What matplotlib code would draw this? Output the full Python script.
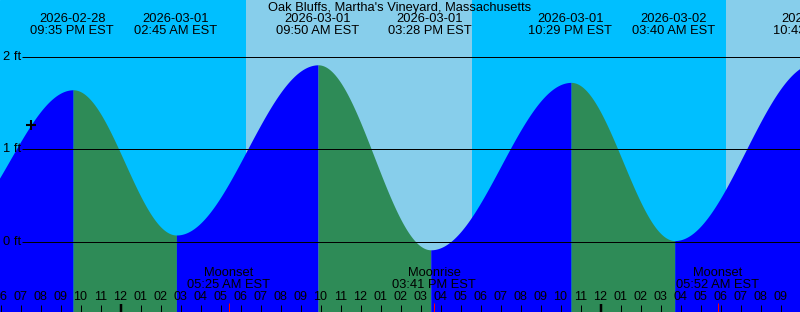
import numpy as np
import matplotlib
matplotlib.use("Agg")
import matplotlib.pyplot as plt
import matplotlib.transforms as mtransforms

plt.rcParams['font.family'] = ['Liberation Sans', 'DejaVu Sans']

title = "Oak Bluffs, Martha's Vineyard, Massachusetts"

# tide events, hours relative to 2026-03-01 00:00 EST
tide_hours = [-8.7, -2.417, 2.75, 9.833, 15.467, 22.483, 27.667, 34.717]
tide_heights = [0.13, 1.64, 0.07, 1.91, -0.09, 1.72, 0.01, 1.93]
tide_dates = ["", "2026-02-28", "2026-03-01", "2026-03-01", "2026-03-01",
              "2026-03-01", "2026-03-02", "2026-03-02"]
tide_times = ["", "09:35 PM EST", "02:45 AM EST", "09:50 AM EST", "03:28 PM EST",
              "10:29 PM EST", "03:40 AM EST", "10:43 AM EST"]

# daylight spans (sunrise, sunset) in hours
day_spans = [(6.275, 17.575), (30.275, 41.5)]

moon_hours = [5.417, 15.683, 29.867]
moon_names = ["Moonset", "Moonrise", "Moonset"]
moon_times = ["05:25 AM EST", "03:41 PM EST", "05:52 AM EST"]

now_hour = -4.5
now_height = 1.26

y_levels = [0, 1, 2]

W, H = 800, 312
x0, x1 = -6.025, 33.975
y0, y1 = -0.757, 2.616

fig = plt.figure(figsize=(W / 100, H / 100), dpi=100)
ax = fig.add_axes([0, 0, 1, 1])
ax.set_xlim(x0, x1)
ax.set_ylim(y0, y1)
ax.axis('off')

night = '#00BFFF'
day = '#87CEEB'
ax.axvspan(x0, x1, color=night, zorder=0)
for a, b in day_spans:
    ax.axvspan(a, b, color=day, zorder=0.5, lw=0)

# tide curve, cosine between highs and lows (drawn ~1.5px later, like the original)
shift = 0.07
for i in range(len(tide_hours) - 1):
    ta, tb = tide_hours[i], tide_hours[i + 1]
    va, vb = tide_heights[i], tide_heights[i + 1]
    t = np.linspace(ta, tb, 200)
    v = va + (vb - va) * (1 - np.cos(np.pi * (t - ta) / (tb - ta))) / 2
    col = '#0000FF' if vb > va else '#2E8B57'
    ax.fill_between(t + shift, y0 - 1, v, color=col, lw=0, zorder=1)

px = 1 / 100 * 72  # one pixel in points
xstart = x0 + 22 / W * (x1 - x0)
ax.hlines(y_levels, xstart, x1, color='black', lw=px, zorder=2)

yfig = mtransforms.blended_transform_factory(ax.transData, ax.transAxes)
axfig = ax.transAxes

def fy(p):
    return 1 - p / H

fs = 9.3
for lv in y_levels:
    ax.text(3 / W, (lv - y0) / (y1 - y0), f"{lv} ft", transform=axfig,
            ha='left', va='center', fontsize=fs, zorder=3)

ax.text(0.5, fy(7.5), title, transform=axfig, ha='center', va='center', fontsize=fs)
for h, d, tm in zip(tide_hours, tide_dates, tide_times):
    if d:
        ax.text(h, fy(19.5), d, transform=yfig, ha='center', va='center', fontsize=fs)
        ax.text(h, fy(31.5), tm, transform=yfig, ha='center', va='center', fontsize=fs)

for h, n, tm in zip(moon_hours, moon_names, moon_times):
    ax.text(h, fy(273.5), n, transform=yfig, ha='center', va='center', fontsize=fs, zorder=3)
    ax.text(h, fy(285.5), tm, transform=yfig, ha='center', va='center', fontsize=fs, zorder=3)
    ax.vlines(h, 0, fy(303), transform=yfig, color='red', lw=px, zorder=4)

for h in range(-6, 34):
    lab = h % 12 or 12
    ax.text(h, fy(297.5), f"{lab:02d}", transform=yfig, ha='center', va='center',
            fontsize=9, zorder=3)
    if h % 24 == 0:
        ax.vlines(h, 0, fy(304), transform=yfig, color='black', lw=2.5 * px, zorder=4)
    else:
        ax.vlines(h, 0, fy(304.5), transform=yfig, color='black', lw=px, zorder=4)

ax.plot([now_hour], [now_height], marker='+', color='black', ms=7, mew=1.5, zorder=5)

fig.savefig('out.png', dpi=100)
